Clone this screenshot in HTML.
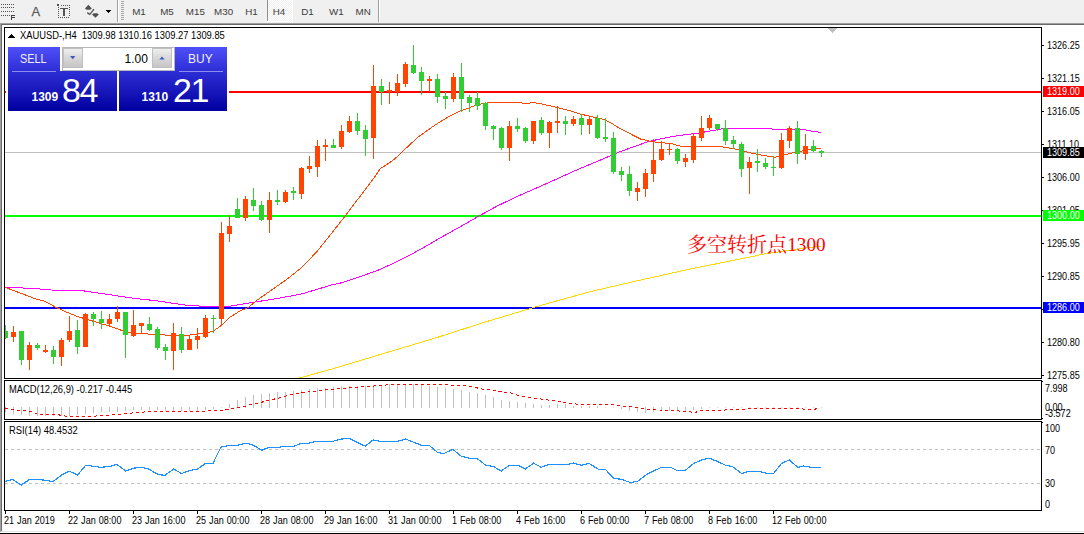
<!DOCTYPE html>
<html><head><meta charset="utf-8"><title>XAUUSD H4</title><style>
html,body{margin:0;padding:0;background:#fff}
body{width:1084px;height:534px;position:relative;overflow:hidden;font-family:"Liberation Sans",sans-serif}
.t{position:absolute;white-space:nowrap;color:#000;line-height:1;font-family:"Liberation Sans",sans-serif}
.tb{font-size:9.8px;color:#3c3c3c}
.ia{font-size:12.5px;color:#606060}
.hd{font-size:10px;transform:scaleX(0.935);transform-origin:0 0}
.ax{font-size:10px;transform:scaleX(0.905);transform-origin:0 0}
.bs{font-size:12px;color:#f0f0ff}
.vol{font-size:12px;color:#000}
.sm{font-size:12px;font-weight:bold;color:#fff}
.big{font-size:34px;color:#fff;letter-spacing:-1.4px}
.sx{transform:scaleX(0.9);transform-origin:0 0}
.lb{position:absolute;left:1043px;width:41px;height:11px;overflow:hidden}
</style></head><body>
<svg width="1084" height="534" viewBox="0 0 1084 534" shape-rendering="crispEdges" style="position:absolute;left:0;top:0"><rect x="0" y="0" width="1084" height="23" fill="#f0f0f0"/>
<rect x="0" y="23" width="1084" height="1" fill="#a0a0a0"/>
<rect x="0" y="24" width="1084" height="1" fill="#696969"/>
<rect x="0" y="24" width="1" height="508" fill="#a0a0a0"/>
<rect x="1" y="25" width="1" height="506" fill="#696969"/>
<rect x="1" y="531" width="1083" height="1" fill="#e3e3e3"/>
<rect x="0" y="533" width="1084" height="1" fill="#000"/>
<rect x="1" y="4" width="1" height="1" fill="#505050"/><rect x="3" y="4" width="1" height="1" fill="#505050"/><rect x="5" y="4" width="1" height="1" fill="#505050"/><rect x="7" y="4" width="1" height="1" fill="#505050"/><rect x="9" y="4" width="1" height="1" fill="#505050"/><rect x="11" y="4" width="1" height="1" fill="#505050"/><rect x="13" y="4" width="1" height="1" fill="#505050"/><rect x="1" y="7" width="1" height="1" fill="#505050"/><rect x="3" y="7" width="1" height="1" fill="#505050"/><rect x="5" y="7" width="1" height="1" fill="#505050"/><rect x="7" y="7" width="1" height="1" fill="#505050"/><rect x="9" y="7" width="1" height="1" fill="#505050"/><rect x="11" y="7" width="1" height="1" fill="#505050"/><rect x="13" y="7" width="1" height="1" fill="#505050"/><rect x="1" y="11" width="1" height="1" fill="#505050"/><rect x="3" y="11" width="1" height="1" fill="#505050"/><rect x="5" y="11" width="1" height="1" fill="#505050"/><rect x="7" y="11" width="1" height="1" fill="#505050"/><rect x="9" y="11" width="1" height="1" fill="#505050"/><rect x="11" y="11" width="1" height="1" fill="#505050"/><rect x="13" y="11" width="1" height="1" fill="#505050"/><rect x="1" y="15" width="1" height="1" fill="#505050"/><rect x="3" y="15" width="1" height="1" fill="#505050"/><rect x="5" y="15" width="1" height="1" fill="#505050"/><rect x="7" y="15" width="1" height="1" fill="#505050"/><rect x="9" y="15" width="1" height="1" fill="#505050"/><path d="M11 15h4.4v1h-3v1h2.2v1h-2.2v2h-1.4z" fill="#444"/><rect x="61" y="5" width="1" height="1" fill="#505050"/><rect x="63" y="5" width="1" height="1" fill="#505050"/><rect x="65" y="5" width="1" height="1" fill="#505050"/><rect x="67" y="5" width="1" height="1" fill="#505050"/><rect x="69" y="5" width="1" height="1" fill="#505050"/><rect x="69" y="7" width="1" height="1" fill="#505050"/><rect x="69" y="9" width="1" height="1" fill="#505050"/><rect x="69" y="11" width="1" height="1" fill="#505050"/><rect x="69" y="13" width="1" height="1" fill="#505050"/><rect x="69" y="15" width="1" height="1" fill="#505050"/><rect x="58" y="17" width="1" height="1" fill="#505050"/><rect x="60" y="17" width="1" height="1" fill="#505050"/><rect x="62" y="17" width="1" height="1" fill="#505050"/><rect x="64" y="17" width="1" height="1" fill="#505050"/><rect x="66" y="17" width="1" height="1" fill="#505050"/><rect x="68" y="17" width="1" height="1" fill="#505050"/><rect x="58" y="7" width="1" height="1" fill="#505050"/><rect x="58" y="9" width="1" height="1" fill="#505050"/><rect x="58" y="11" width="1" height="1" fill="#505050"/><rect x="58" y="13" width="1" height="1" fill="#505050"/><rect x="58" y="15" width="1" height="1" fill="#505050"/><rect x="57" y="4" width="2" height="2" fill="#505050"/><path d="M60 8h8v1.4h-3v6.6h-2v-6.6h-3z" fill="#555"/><text shape-rendering="geometricPrecision" x="31.6" y="16" font-size="13" font-family="Liberation Sans, sans-serif" fill="#5a5a5a" stroke="#5a5a5a" stroke-width="0.25">A</text><g shape-rendering="geometricPrecision"><path d="M88.4 4.8 L91.8 8.4 L90.2 9.8 L86.6 9.8 L85 8.4 Z" fill="#505050"/><path d="M87.2 12.6 L89.8 14.4 L94 9.2" fill="none" stroke="#505050" stroke-width="1.3"/><path d="M95.4 17.8 L92 14.4 L93.6 13.2 L97.2 13.2 L98.8 14.4 Z" fill="#505050"/></g><path d="M105.8 10 h5.4 l-2.7 3 z" fill="#000"/><rect x="117" y="0" width="1" height="22" fill="#a0a0a0"/><rect x="118" y="0" width="1" height="22" fill="#fff"/><rect x="121" y="1" width="3" height="1" fill="#a8a8a8"/><rect x="121" y="3" width="3" height="1" fill="#a8a8a8"/><rect x="121" y="5" width="3" height="1" fill="#a8a8a8"/><rect x="121" y="7" width="3" height="1" fill="#a8a8a8"/><rect x="121" y="9" width="3" height="1" fill="#a8a8a8"/><rect x="121" y="11" width="3" height="1" fill="#a8a8a8"/><rect x="121" y="13" width="3" height="1" fill="#a8a8a8"/><rect x="121" y="15" width="3" height="1" fill="#a8a8a8"/><rect x="121" y="17" width="3" height="1" fill="#a8a8a8"/><rect x="121" y="19" width="3" height="1" fill="#a8a8a8"/><defs><pattern id="chk" width="2" height="2" patternUnits="userSpaceOnUse"><rect width="2" height="2" fill="#f0f0f0"/><rect width="1" height="1" fill="#fff"/><rect x="1" y="1" width="1" height="1" fill="#fff"/></pattern></defs><rect x="268" y="0" width="24" height="21" fill="url(#chk)"/><rect x="267" y="0" width="1" height="21" fill="#909090"/><rect x="267" y="21" width="26" height="1" fill="#fff"/><rect x="292" y="0" width="1" height="22" fill="#fff"/><rect x="378" y="0" width="1" height="22" fill="#a0a0a0"/><rect x="379" y="0" width="1" height="22" fill="#fff"/>
<rect x="4.5" y="27.5" width="1037" height="351" fill="#fff" stroke="#000" stroke-width="1"/>
<rect x="4.5" y="380.5" width="1037" height="39" fill="#fff" stroke="#000" stroke-width="1"/>
<rect x="4.5" y="421.5" width="1037" height="89" fill="#fff" stroke="#000" stroke-width="1"/>
<clipPath id="cm"><rect x="5" y="28" width="1036" height="350"/></clipPath>
<g clip-path="url(#cm)">
<rect x="5" y="152" width="1036" height="1" fill="#c0c0c0"/>
<rect x="5" y="91" width="1036" height="2" fill="#FF0000"/>
<rect x="5" y="215" width="1036" height="2" fill="#00FF00"/>
<rect x="5" y="307" width="1036" height="2" fill="#0000FF"/>
<polyline points="296.0,379.0 298.0,378.4 331.7,369.1 383.3,353.6 435.0,338.1 486.6,321.6 538.3,306.1 590.0,291.7 641.6,279.8 693.2,268.4 715.5,264.0 744.9,258.1 764.0,254.0 796.5,249.3 821.0,246.0" fill="none" stroke="#FFD700" stroke-width="1"/>
<polyline points="5.0,287.3 33.2,288.4 50.9,290.0 81.9,290.6 99.6,293.3 115.1,295.5 132.8,298.2 155.0,300.6 172.7,303.2 188.2,305.4 203.7,306.3 215.0,306.9 227.0,306.6 242.0,304.2 257.0,301.7 272.0,299.4 287.0,296.7 302.0,293.8 317.0,289.4 332.0,284.8 339.3,283.4 358.0,277.5 378.6,270.0 392.0,264.0 406.1,257.1 422.0,248.5 437.6,239.4 457.2,228.4 480.8,215.0 496.5,206.4 516.2,196.9 535.8,188.3 555.5,179.6 575.2,170.6 590.0,164.4 603.0,159.0 618.0,152.5 633.0,147.0 648.0,141.7 663.0,138.3 678.0,135.7 693.0,133.8 700.0,133.0 704.5,132.0 715.0,130.2 722.5,128.7 730.0,128.3 770.4,128.3 772.0,129.2 802.0,129.2 805.0,129.9 811.0,131.0 821.0,132.5" fill="none" stroke="#FF00FF" stroke-width="1"/>
<polyline points="5.0,287.3 22.0,293.7 35.4,298.8 44.3,301.0 55.3,307.0 66.4,312.1 77.5,316.5 88.6,319.8 99.6,323.2 110.7,326.5 121.8,330.5 132.8,333.1 155.0,334.4 172.7,335.5 188.2,335.3 199.2,333.8 212.5,331.6 221.4,325.5 230.2,317.0 240.0,311.0 248.0,307.7 257.0,300.2 272.0,289.7 287.0,279.2 302.0,267.2 317.0,251.5 328.0,237.8 339.3,223.5 347.2,213.3 359.0,197.7 370.0,183.3 375.0,176.5 380.5,168.5 387.6,164.0 394.6,159.0 403.0,151.1 412.0,142.7 417.9,137.2 428.0,130.0 437.6,123.4 450.9,115.4 461.4,110.5 468.9,107.9 476.4,105.2 482.0,103.7 491.0,102.5 521.0,102.5 524.0,103.7 528.4,103.4 533.0,102.5 540.4,103.7 551.0,106.0 557.0,107.5 566.0,109.7 573.4,111.7 581.0,114.2 588.4,115.9 595.5,117.7 603.0,119.2 610.5,122.5 618.0,127.4 633.0,135.2 640.4,139.0 648.0,140.7 652.4,141.7 663.0,142.9 670.4,143.4 682.4,146.6 719.5,146.4 730.0,148.2 739.0,149.7 752.4,153.4 764.4,155.7 775.0,157.2 787.0,154.2 796.0,152.0 805.0,150.4 814.0,148.7 821.0,148.3" fill="none" stroke="#FF4500" stroke-width="1"/>
<rect x="5" y="325" width="1" height="14" fill="#32CD32"/><rect x="3" y="331" width="5" height="7" fill="#32CD32"/>
<rect x="13" y="326" width="1" height="16" fill="#FF4500"/><rect x="11" y="332" width="5" height="5" fill="#FF4500"/>
<rect x="21" y="331" width="1" height="34" fill="#32CD32"/><rect x="19" y="331" width="5" height="29" fill="#32CD32"/>
<rect x="29" y="342" width="1" height="28" fill="#FF4500"/><rect x="27" y="345" width="5" height="15" fill="#FF4500"/>
<rect x="37" y="343" width="1" height="7" fill="#32CD32"/><rect x="35" y="345" width="5" height="3" fill="#32CD32"/>
<rect x="45" y="345" width="1" height="8" fill="#FF4500"/><rect x="43" y="350" width="5" height="2" fill="#FF4500"/>
<rect x="53" y="346" width="1" height="18" fill="#32CD32"/><rect x="51" y="350" width="5" height="7" fill="#32CD32"/>
<rect x="61" y="338" width="1" height="28" fill="#FF4500"/><rect x="59" y="340" width="5" height="17" fill="#FF4500"/>
<rect x="69" y="316" width="1" height="26" fill="#FF4500"/><rect x="67" y="331" width="5" height="9" fill="#FF4500"/>
<rect x="77" y="320" width="1" height="34" fill="#32CD32"/><rect x="75" y="330" width="5" height="17" fill="#32CD32"/>
<rect x="85" y="313" width="1" height="34" fill="#FF4500"/><rect x="83" y="314" width="5" height="33" fill="#FF4500"/>
<rect x="93" y="312" width="1" height="14" fill="#32CD32"/><rect x="91" y="314" width="5" height="5" fill="#32CD32"/>
<rect x="101" y="311" width="1" height="18" fill="#32CD32"/><rect x="99" y="319" width="5" height="4" fill="#32CD32"/>
<rect x="109" y="314" width="1" height="12" fill="#FF4500"/><rect x="107" y="319" width="5" height="5" fill="#FF4500"/>
<rect x="117" y="306" width="1" height="16" fill="#FF4500"/><rect x="115" y="312" width="5" height="7" fill="#FF4500"/>
<rect x="125" y="312" width="1" height="46" fill="#32CD32"/><rect x="123" y="312" width="5" height="23" fill="#32CD32"/>
<rect x="133" y="310" width="1" height="27" fill="#FF4500"/><rect x="131" y="325" width="5" height="11" fill="#FF4500"/>
<rect x="141" y="323" width="1" height="11" fill="#FF4500"/><rect x="139" y="323" width="5" height="3" fill="#FF4500"/>
<rect x="149" y="317" width="1" height="14" fill="#32CD32"/><rect x="147" y="324" width="5" height="6" fill="#32CD32"/>
<rect x="157" y="327" width="1" height="23" fill="#32CD32"/><rect x="155" y="329" width="5" height="19" fill="#32CD32"/>
<rect x="165" y="344" width="1" height="16" fill="#32CD32"/><rect x="163" y="347" width="5" height="4" fill="#32CD32"/>
<rect x="173" y="323" width="1" height="47" fill="#FF4500"/><rect x="171" y="333" width="5" height="18" fill="#FF4500"/>
<rect x="181" y="327" width="1" height="26" fill="#32CD32"/><rect x="179" y="334" width="5" height="16" fill="#32CD32"/>
<rect x="189" y="335" width="1" height="15" fill="#FF4500"/><rect x="187" y="339" width="5" height="11" fill="#FF4500"/>
<rect x="197" y="328" width="1" height="21" fill="#FF4500"/><rect x="195" y="336" width="5" height="4" fill="#FF4500"/>
<rect x="205" y="315" width="1" height="23" fill="#FF4500"/><rect x="203" y="318" width="5" height="19" fill="#FF4500"/>
<rect x="213" y="315" width="1" height="18" fill="#32CD32"/><rect x="211" y="318" width="5" height="1" fill="#32CD32"/>
<rect x="221" y="222" width="1" height="104" fill="#FF4500"/><rect x="219" y="233" width="5" height="86" fill="#FF4500"/>
<rect x="229" y="215" width="1" height="27" fill="#FF4500"/><rect x="227" y="226" width="5" height="8" fill="#FF4500"/>
<rect x="237" y="198" width="1" height="20" fill="#32CD32"/><rect x="235" y="209" width="5" height="9" fill="#32CD32"/>
<rect x="245" y="196" width="1" height="25" fill="#FF4500"/><rect x="243" y="199" width="5" height="19" fill="#FF4500"/>
<rect x="253" y="188" width="1" height="23" fill="#32CD32"/><rect x="251" y="200" width="5" height="6" fill="#32CD32"/>
<rect x="261" y="201" width="1" height="20" fill="#32CD32"/><rect x="259" y="205" width="5" height="15" fill="#32CD32"/>
<rect x="269" y="192" width="1" height="41" fill="#FF4500"/><rect x="267" y="200" width="5" height="20" fill="#FF4500"/>
<rect x="277" y="190" width="1" height="15" fill="#32CD32"/><rect x="275" y="200" width="5" height="2" fill="#32CD32"/>
<rect x="285" y="190" width="1" height="13" fill="#FF4500"/><rect x="283" y="192" width="5" height="10" fill="#FF4500"/>
<rect x="293" y="187" width="1" height="13" fill="#32CD32"/><rect x="291" y="191" width="5" height="2" fill="#32CD32"/>
<rect x="301" y="167" width="1" height="32" fill="#FF4500"/><rect x="299" y="168" width="5" height="26" fill="#FF4500"/>
<rect x="309" y="156" width="1" height="17" fill="#FF4500"/><rect x="307" y="166" width="5" height="3" fill="#FF4500"/>
<rect x="317" y="140" width="1" height="37" fill="#FF4500"/><rect x="315" y="146" width="5" height="21" fill="#FF4500"/>
<rect x="325" y="139" width="1" height="22" fill="#FF4500"/><rect x="323" y="145" width="5" height="2" fill="#FF4500"/>
<rect x="333" y="139" width="1" height="9" fill="#32CD32"/><rect x="331" y="145" width="5" height="3" fill="#32CD32"/>
<rect x="341" y="125" width="1" height="24" fill="#FF4500"/><rect x="339" y="131" width="5" height="16" fill="#FF4500"/>
<rect x="349" y="116" width="1" height="17" fill="#FF4500"/><rect x="347" y="121" width="5" height="11" fill="#FF4500"/>
<rect x="357" y="113" width="1" height="22" fill="#32CD32"/><rect x="355" y="121" width="5" height="10" fill="#32CD32"/>
<rect x="365" y="125" width="1" height="31" fill="#32CD32"/><rect x="363" y="130" width="5" height="9" fill="#32CD32"/>
<rect x="373" y="65" width="1" height="94" fill="#FF4500"/><rect x="371" y="86" width="5" height="52" fill="#FF4500"/>
<rect x="381" y="79" width="1" height="26" fill="#32CD32"/><rect x="379" y="86" width="5" height="6" fill="#32CD32"/>
<rect x="389" y="82" width="1" height="22" fill="#FF4500"/><rect x="387" y="90" width="5" height="2" fill="#FF4500"/>
<rect x="397" y="74" width="1" height="22" fill="#FF4500"/><rect x="395" y="83" width="5" height="9" fill="#FF4500"/>
<rect x="405" y="62" width="1" height="25" fill="#FF4500"/><rect x="403" y="64" width="5" height="20" fill="#FF4500"/>
<rect x="413" y="45" width="1" height="29" fill="#32CD32"/><rect x="411" y="65" width="5" height="8" fill="#32CD32"/>
<rect x="421" y="67" width="1" height="28" fill="#32CD32"/><rect x="419" y="72" width="5" height="9" fill="#32CD32"/>
<rect x="429" y="76" width="1" height="16" fill="#FF4500"/><rect x="427" y="79" width="5" height="2" fill="#FF4500"/>
<rect x="437" y="74" width="1" height="29" fill="#32CD32"/><rect x="435" y="79" width="5" height="18" fill="#32CD32"/>
<rect x="445" y="92" width="1" height="17" fill="#32CD32"/><rect x="443" y="96" width="5" height="3" fill="#32CD32"/>
<rect x="453" y="73" width="1" height="29" fill="#FF4500"/><rect x="451" y="77" width="5" height="22" fill="#FF4500"/>
<rect x="461" y="63" width="1" height="49" fill="#32CD32"/><rect x="459" y="77" width="5" height="22" fill="#32CD32"/>
<rect x="469" y="95" width="1" height="17" fill="#32CD32"/><rect x="467" y="97" width="5" height="6" fill="#32CD32"/>
<rect x="477" y="92" width="1" height="18" fill="#32CD32"/><rect x="475" y="98" width="5" height="8" fill="#32CD32"/>
<rect x="485" y="102" width="1" height="28" fill="#32CD32"/><rect x="483" y="103" width="5" height="23" fill="#32CD32"/>
<rect x="493" y="125" width="1" height="15" fill="#32CD32"/><rect x="491" y="126" width="5" height="3" fill="#32CD32"/>
<rect x="501" y="127" width="1" height="23" fill="#32CD32"/><rect x="499" y="128" width="5" height="20" fill="#32CD32"/>
<rect x="509" y="121" width="1" height="40" fill="#FF4500"/><rect x="507" y="126" width="5" height="22" fill="#FF4500"/>
<rect x="517" y="118" width="1" height="14" fill="#32CD32"/><rect x="515" y="126" width="5" height="3" fill="#32CD32"/>
<rect x="525" y="127" width="1" height="16" fill="#32CD32"/><rect x="523" y="128" width="5" height="13" fill="#32CD32"/>
<rect x="533" y="121" width="1" height="23" fill="#FF4500"/><rect x="531" y="121" width="5" height="20" fill="#FF4500"/>
<rect x="541" y="117" width="1" height="18" fill="#32CD32"/><rect x="539" y="120" width="5" height="13" fill="#32CD32"/>
<rect x="549" y="121" width="1" height="27" fill="#FF4500"/><rect x="547" y="122" width="5" height="11" fill="#FF4500"/>
<rect x="557" y="106" width="1" height="27" fill="#FF4500"/><rect x="555" y="121" width="5" height="2" fill="#FF4500"/>
<rect x="565" y="116" width="1" height="19" fill="#32CD32"/><rect x="563" y="121" width="5" height="3" fill="#32CD32"/>
<rect x="573" y="116" width="1" height="10" fill="#FF4500"/><rect x="571" y="119" width="5" height="5" fill="#FF4500"/>
<rect x="581" y="114" width="1" height="21" fill="#32CD32"/><rect x="579" y="118" width="5" height="7" fill="#32CD32"/>
<rect x="589" y="116" width="1" height="18" fill="#FF4500"/><rect x="587" y="119" width="5" height="6" fill="#FF4500"/>
<rect x="597" y="115" width="1" height="24" fill="#32CD32"/><rect x="595" y="118" width="5" height="20" fill="#32CD32"/>
<rect x="605" y="118" width="1" height="24" fill="#32CD32"/><rect x="603" y="137" width="5" height="2" fill="#32CD32"/>
<rect x="613" y="132" width="1" height="42" fill="#32CD32"/><rect x="611" y="138" width="5" height="34" fill="#32CD32"/>
<rect x="621" y="167" width="1" height="14" fill="#32CD32"/><rect x="619" y="171" width="5" height="4" fill="#32CD32"/>
<rect x="629" y="166" width="1" height="30" fill="#32CD32"/><rect x="627" y="174" width="5" height="17" fill="#32CD32"/>
<rect x="637" y="182" width="1" height="19" fill="#FF4500"/><rect x="635" y="188" width="5" height="4" fill="#FF4500"/>
<rect x="645" y="169" width="1" height="28" fill="#FF4500"/><rect x="643" y="173" width="5" height="16" fill="#FF4500"/>
<rect x="653" y="139" width="1" height="43" fill="#FF4500"/><rect x="651" y="160" width="5" height="14" fill="#FF4500"/>
<rect x="661" y="141" width="1" height="20" fill="#FF4500"/><rect x="659" y="149" width="5" height="11" fill="#FF4500"/>
<rect x="669" y="143" width="1" height="12" fill="#FF4500"/><rect x="667" y="149" width="5" height="1" fill="#FF4500"/>
<rect x="677" y="148" width="1" height="16" fill="#32CD32"/><rect x="675" y="149" width="5" height="12" fill="#32CD32"/>
<rect x="685" y="154" width="1" height="13" fill="#FF4500"/><rect x="683" y="158" width="5" height="4" fill="#FF4500"/>
<rect x="693" y="133" width="1" height="30" fill="#FF4500"/><rect x="691" y="136" width="5" height="24" fill="#FF4500"/>
<rect x="701" y="116" width="1" height="25" fill="#FF4500"/><rect x="699" y="128" width="5" height="10" fill="#FF4500"/>
<rect x="709" y="115" width="1" height="15" fill="#FF4500"/><rect x="707" y="118" width="5" height="10" fill="#FF4500"/>
<rect x="717" y="124" width="1" height="7" fill="#32CD32"/><rect x="715" y="124" width="5" height="5" fill="#32CD32"/>
<rect x="725" y="120" width="1" height="25" fill="#32CD32"/><rect x="723" y="128" width="5" height="13" fill="#32CD32"/>
<rect x="733" y="136" width="1" height="13" fill="#32CD32"/><rect x="731" y="140" width="5" height="4" fill="#32CD32"/>
<rect x="741" y="142" width="1" height="35" fill="#32CD32"/><rect x="739" y="144" width="5" height="25" fill="#32CD32"/>
<rect x="749" y="157" width="1" height="37" fill="#FF4500"/><rect x="747" y="162" width="5" height="6" fill="#FF4500"/>
<rect x="757" y="149" width="1" height="23" fill="#32CD32"/><rect x="755" y="161" width="5" height="2" fill="#32CD32"/>
<rect x="765" y="158" width="1" height="11" fill="#32CD32"/><rect x="763" y="163" width="5" height="4" fill="#32CD32"/>
<rect x="773" y="156" width="1" height="20" fill="#32CD32"/><rect x="771" y="167" width="5" height="1" fill="#32CD32"/>
<rect x="781" y="133" width="1" height="36" fill="#FF4500"/><rect x="779" y="140" width="5" height="28" fill="#FF4500"/>
<rect x="789" y="126" width="1" height="22" fill="#FF4500"/><rect x="787" y="128" width="5" height="13" fill="#FF4500"/>
<rect x="797" y="121" width="1" height="43" fill="#32CD32"/><rect x="795" y="128" width="5" height="26" fill="#32CD32"/>
<rect x="805" y="134" width="1" height="26" fill="#FF4500"/><rect x="803" y="146" width="5" height="8" fill="#FF4500"/>
<rect x="813" y="140" width="1" height="12" fill="#32CD32"/><rect x="811" y="146" width="5" height="5" fill="#32CD32"/>
<rect x="821" y="150" width="1" height="7" fill="#32CD32"/><rect x="819" y="151" width="5" height="2" fill="#32CD32"/>
</g>
<path d="M828 28 h9 l-4.5 5 z" fill="#c0c0c0"/>
<rect x="5" y="407" width="1" height="5" fill="#c0c0c0"/>
<rect x="13" y="407" width="1" height="7" fill="#c0c0c0"/>
<rect x="21" y="407" width="1" height="8" fill="#c0c0c0"/>
<rect x="29" y="407" width="1" height="9" fill="#c0c0c0"/>
<rect x="37" y="407" width="1" height="9" fill="#c0c0c0"/>
<rect x="45" y="407" width="1" height="9" fill="#c0c0c0"/>
<rect x="53" y="407" width="1" height="9" fill="#c0c0c0"/>
<rect x="61" y="407" width="1" height="9" fill="#c0c0c0"/>
<rect x="69" y="407" width="1" height="9" fill="#c0c0c0"/>
<rect x="77" y="407" width="1" height="8" fill="#c0c0c0"/>
<rect x="85" y="407" width="1" height="7" fill="#c0c0c0"/>
<rect x="93" y="407" width="1" height="6" fill="#c0c0c0"/>
<rect x="101" y="407" width="1" height="5" fill="#c0c0c0"/>
<rect x="109" y="407" width="1" height="5" fill="#c0c0c0"/>
<rect x="117" y="407" width="1" height="5" fill="#c0c0c0"/>
<rect x="125" y="407" width="1" height="4" fill="#c0c0c0"/>
<rect x="133" y="407" width="1" height="3" fill="#c0c0c0"/>
<rect x="141" y="407" width="1" height="3" fill="#c0c0c0"/>
<rect x="149" y="407" width="1" height="3" fill="#c0c0c0"/>
<rect x="157" y="407" width="1" height="3" fill="#c0c0c0"/>
<rect x="165" y="407" width="1" height="4" fill="#c0c0c0"/>
<rect x="173" y="407" width="1" height="4" fill="#c0c0c0"/>
<rect x="181" y="407" width="1" height="4" fill="#c0c0c0"/>
<rect x="189" y="407" width="1" height="4" fill="#c0c0c0"/>
<rect x="197" y="407" width="1" height="4" fill="#c0c0c0"/>
<rect x="205" y="407" width="1" height="3" fill="#c0c0c0"/>
<rect x="213" y="407" width="1" height="2" fill="#c0c0c0"/>
<rect x="221" y="407" width="1" height="1" fill="#d8d8d8"/>
<rect x="229" y="404" width="1" height="4" fill="#c0c0c0"/>
<rect x="237" y="400" width="1" height="8" fill="#c0c0c0"/>
<rect x="245" y="397" width="1" height="11" fill="#c0c0c0"/>
<rect x="253" y="395" width="1" height="13" fill="#c0c0c0"/>
<rect x="261" y="394" width="1" height="14" fill="#c0c0c0"/>
<rect x="269" y="393" width="1" height="15" fill="#c0c0c0"/>
<rect x="277" y="392" width="1" height="16" fill="#c0c0c0"/>
<rect x="285" y="392" width="1" height="16" fill="#c0c0c0"/>
<rect x="293" y="391" width="1" height="17" fill="#c0c0c0"/>
<rect x="301" y="390" width="1" height="18" fill="#c0c0c0"/>
<rect x="309" y="389" width="1" height="19" fill="#c0c0c0"/>
<rect x="317" y="388" width="1" height="20" fill="#c0c0c0"/>
<rect x="325" y="388" width="1" height="20" fill="#c0c0c0"/>
<rect x="333" y="387" width="1" height="21" fill="#c0c0c0"/>
<rect x="341" y="386" width="1" height="22" fill="#c0c0c0"/>
<rect x="349" y="386" width="1" height="22" fill="#c0c0c0"/>
<rect x="357" y="386" width="1" height="22" fill="#c0c0c0"/>
<rect x="365" y="386" width="1" height="22" fill="#c0c0c0"/>
<rect x="373" y="385" width="1" height="23" fill="#c0c0c0"/>
<rect x="381" y="385" width="1" height="23" fill="#c0c0c0"/>
<rect x="389" y="384" width="1" height="24" fill="#c0c0c0"/>
<rect x="397" y="384" width="1" height="24" fill="#c0c0c0"/>
<rect x="405" y="384" width="1" height="24" fill="#c0c0c0"/>
<rect x="413" y="384" width="1" height="24" fill="#c0c0c0"/>
<rect x="421" y="385" width="1" height="23" fill="#c0c0c0"/>
<rect x="429" y="386" width="1" height="22" fill="#c0c0c0"/>
<rect x="437" y="387" width="1" height="21" fill="#c0c0c0"/>
<rect x="445" y="388" width="1" height="20" fill="#c0c0c0"/>
<rect x="453" y="389" width="1" height="19" fill="#c0c0c0"/>
<rect x="461" y="390" width="1" height="18" fill="#c0c0c0"/>
<rect x="469" y="392" width="1" height="16" fill="#c0c0c0"/>
<rect x="477" y="393" width="1" height="15" fill="#c0c0c0"/>
<rect x="485" y="395" width="1" height="13" fill="#c0c0c0"/>
<rect x="493" y="397" width="1" height="11" fill="#c0c0c0"/>
<rect x="501" y="400" width="1" height="8" fill="#c0c0c0"/>
<rect x="509" y="401" width="1" height="7" fill="#c0c0c0"/>
<rect x="517" y="402" width="1" height="6" fill="#c0c0c0"/>
<rect x="525" y="403" width="1" height="5" fill="#c0c0c0"/>
<rect x="533" y="404" width="1" height="4" fill="#c0c0c0"/>
<rect x="541" y="405" width="1" height="3" fill="#c0c0c0"/>
<rect x="549" y="405" width="1" height="3" fill="#c0c0c0"/>
<rect x="557" y="404" width="1" height="4" fill="#c0c0c0"/>
<rect x="565" y="404" width="1" height="4" fill="#c0c0c0"/>
<rect x="573" y="406" width="1" height="2" fill="#c0c0c0"/>
<rect x="581" y="406" width="1" height="2" fill="#c0c0c0"/>
<rect x="589" y="406" width="1" height="2" fill="#c0c0c0"/>
<rect x="597" y="406" width="1" height="2" fill="#c0c0c0"/>
<rect x="605" y="407" width="1" height="1" fill="#d8d8d8"/>
<rect x="613" y="407" width="1" height="1" fill="#d8d8d8"/>
<rect x="621" y="407" width="1" height="2" fill="#c0c0c0"/>
<rect x="629" y="407" width="1" height="4" fill="#c0c0c0"/>
<rect x="637" y="407" width="1" height="5" fill="#c0c0c0"/>
<rect x="645" y="407" width="1" height="6" fill="#c0c0c0"/>
<rect x="653" y="407" width="1" height="5" fill="#c0c0c0"/>
<rect x="661" y="407" width="1" height="4" fill="#c0c0c0"/>
<rect x="669" y="407" width="1" height="4" fill="#c0c0c0"/>
<rect x="677" y="407" width="1" height="4" fill="#c0c0c0"/>
<rect x="685" y="407" width="1" height="4" fill="#c0c0c0"/>
<rect x="693" y="407" width="1" height="3" fill="#c0c0c0"/>
<rect x="701" y="407" width="1" height="2" fill="#c0c0c0"/>
<rect x="709" y="407" width="1" height="1" fill="#d8d8d8"/>
<rect x="717" y="407" width="1" height="1" fill="#d8d8d8"/>
<rect x="725" y="407" width="1" height="1" fill="#d8d8d8"/>
<rect x="733" y="407" width="1" height="1" fill="#d8d8d8"/>
<rect x="741" y="407" width="1" height="1" fill="#d8d8d8"/>
<rect x="749" y="407" width="1" height="1" fill="#d8d8d8"/>
<rect x="757" y="407" width="1" height="1" fill="#d8d8d8"/>
<rect x="765" y="407" width="1" height="1" fill="#d8d8d8"/>
<rect x="773" y="407" width="1" height="1" fill="#d8d8d8"/>
<rect x="781" y="407" width="1" height="1" fill="#d8d8d8"/>
<rect x="789" y="407" width="1" height="1" fill="#d8d8d8"/>
<rect x="797" y="407" width="1" height="1" fill="#d8d8d8"/>
<rect x="805" y="407" width="1" height="1" fill="#d8d8d8"/>
<rect x="813" y="407" width="1" height="1" fill="#d8d8d8"/>
<rect x="821" y="407" width="1" height="1" fill="#d8d8d8"/>
<polyline points="5.0,408.7 13.0,409.4 19.4,410.4 24.5,410.7 30.3,411.4 36.8,413.8 42.6,414.6 54.2,414.6 60.7,415.1 65.9,416.2 95.6,416.2 98.2,415.1 109.8,415.1 120.1,414.2 122.7,413.3 130.0,413.1 142.5,412.4 147.4,411.4 204.7,411.4 212.2,410.4 224.6,410.1 229.6,408.9 242.0,407.4 249.6,404.9 259.5,402.9 267.0,400.7 279.4,397.9 289.4,394.9 304.3,392.5 319.3,390.7 336.7,388.7 354.2,387.5 371.6,386.2 386.5,385.0 400.0,384.7 420.0,384.5 440.0,384.5 472.0,386.2 479.7,388.7 494.6,390.5 512.0,393.2 519.5,395.7 529.5,397.4 544.4,399.4 564.3,402.4 579.3,404.4 614.0,404.9 621.6,406.4 639.0,407.4 643.9,409.0 659.4,410.0 678.7,411.0 688.4,411.0 691.3,412.3 696.2,412.3 698.1,411.0 717.5,410.4 736.9,409.4 744.6,409.4 748.5,408.3 800.8,408.3 804.7,409.4 814.4,409.4 817.3,408.3 819.0,408.3" fill="none" stroke="#FF0000" stroke-width="1" stroke-dasharray="3,3"/>
<line x1="5" y1="449.5" x2="1041" y2="449.5" stroke="#c0c0c0" stroke-width="1" stroke-dasharray="3,3"/>
<line x1="5" y1="483.5" x2="1041" y2="483.5" stroke="#c0c0c0" stroke-width="1" stroke-dasharray="3,3"/>
<polyline points="5.2,481.5 12.4,479.4 21.2,485.1 29.7,479.4 38.7,479.4 53.0,481.5 62.0,474.8 69.2,471.1 77.5,475.0 85.8,465.2 100.7,467.3 109.8,466.5 116.8,464.4 125.8,471.1 133.0,468.3 140.8,467.3 147.8,468.6 157.6,474.2 164.6,475.5 173.6,469.1 181.6,473.5 189.9,470.4 197.6,469.1 205.4,463.4 213.1,463.1 220.9,447.1 227.3,445.8 237.7,445.1 245.4,443.2 251.9,444.5 261.7,450.2 268.7,447.4 280.3,447.1 282.9,446.1 294.5,446.1 301.0,443.2 308.7,443.2 316.5,441.2 333.3,441.2 341.0,439.1 348.8,438.1 356.5,442.0 365.1,446.1 373.3,439.9 379.8,441.2 397.9,441.2 405.6,439.1 413.4,442.2 421.1,445.1 428.9,445.1 437.4,452.3 443.6,453.6 452.9,449.4 461.2,456.2 468.9,458.2 476.7,458.2 485.7,465.2 493.5,466.5 501.2,471.1 509.0,465.5 518.0,465.2 525.2,469.1 533.5,463.1 541.3,467.3 549.0,464.4 568.4,464.4 573.6,463.1 581.3,465.2 589.1,463.4 598.1,469.1 605.1,469.1 613.6,478.1 621.4,479.4 630.4,482.5 637.6,481.2 647.2,474.2 661.4,467.3 670.5,467.3 676.9,470.4 685.2,470.4 693.7,463.4 701.5,460.0 709.2,458.2 717.0,461.3 725.5,465.2 732.5,466.5 741.5,473.5 749.3,471.1 758.3,471.1 766.0,473.2 773.8,473.2 781.5,463.4 789.3,460.0 797.8,467.3 803.5,466.0 811.3,467.3 821.0,467.3" fill="none" stroke="#1E90FF" stroke-width="1.2"/>
<rect x="1042" y="45" width="2" height="1" fill="#000"/>
<rect x="1042" y="78" width="2" height="1" fill="#000"/>
<rect x="1042" y="111" width="2" height="1" fill="#000"/>
<rect x="1042" y="144" width="2" height="1" fill="#000"/>
<rect x="1042" y="177" width="2" height="1" fill="#000"/>
<rect x="1042" y="210" width="2" height="1" fill="#000"/>
<rect x="1042" y="243" width="2" height="1" fill="#000"/>
<rect x="1042" y="276" width="2" height="1" fill="#000"/>
<rect x="1042" y="309" width="2" height="1" fill="#000"/>
<rect x="1042" y="342" width="2" height="1" fill="#000"/>
<rect x="1042" y="375" width="2" height="1" fill="#000"/>
<rect x="1042" y="381" width="1" height="1" fill="#000"/>
<rect x="1042" y="418" width="1" height="1" fill="#000"/>
<rect x="1042" y="422" width="1" height="1" fill="#000"/>
<rect x="5" y="511" width="1" height="3" fill="#000"/>
<rect x="69" y="511" width="1" height="3" fill="#000"/>
<rect x="133" y="511" width="1" height="3" fill="#000"/>
<rect x="197" y="511" width="1" height="3" fill="#000"/>
<rect x="261" y="511" width="1" height="3" fill="#000"/>
<rect x="325" y="511" width="1" height="3" fill="#000"/>
<rect x="389" y="511" width="1" height="3" fill="#000"/>
<rect x="453" y="511" width="1" height="3" fill="#000"/>
<rect x="517" y="511" width="1" height="3" fill="#000"/>
<rect x="581" y="511" width="1" height="3" fill="#000"/>
<rect x="645" y="511" width="1" height="3" fill="#000"/>
<rect x="709" y="511" width="1" height="3" fill="#000"/>
<rect x="773" y="511" width="1" height="3" fill="#000"/>
<g fill="#FF0000" shape-rendering="geometricPrecision" font-family="Liberation Serif, Noto Serif CJK SC, serif"><text x="687" y="251.5" font-size="20" textLength="100" lengthAdjust="spacingAndGlyphs">多空转折点</text><text x="787.2" y="251" font-size="19.5" textLength="38.4" lengthAdjust="spacingAndGlyphs">1300</text></g>
<defs><linearGradient id="gb" x1="0" y1="0" x2="0" y2="1"><stop offset="0" stop-color="#5050f8"/><stop offset="0.35" stop-color="#3030d8"/><stop offset="1" stop-color="#0000a0"/></linearGradient><linearGradient id="gs" x1="0" y1="0" x2="0" y2="1"><stop offset="0" stop-color="#f0f0f0"/><stop offset="0.5" stop-color="#d8d8d8"/><stop offset="1" stop-color="#c4c4c4"/></linearGradient></defs><rect x="6" y="45" width="223" height="68" fill="#fff"/><path d="M8 47 H60 V71 H117 V111 H8 Z" fill="url(#gb)"/><path d="M227 47 H175 V71 H119 V111 H227 Z" fill="url(#gb)"/><rect x="12" y="71" width="44" height="1" fill="#8c8cf0"/><rect x="179" y="71" width="44" height="1" fill="#8c8cf0"/><rect x="62.5" y="47.5" width="112" height="23" fill="#fff" stroke="#b8b8b8"/><rect x="63.5" y="48.5" width="19" height="19" fill="url(#gs)" stroke="#c0c0c0" stroke-width="1"/><rect x="152.5" y="48.5" width="19" height="19" fill="url(#gs)" stroke="#c0c0c0" stroke-width="1"/><path shape-rendering="geometricPrecision" d="M70 56 h5.4 l-2.7 3.2 z" fill="#4058c0"/><path shape-rendering="geometricPrecision" d="M159.3 59.6 h5.4 l-2.7 -3.2 z" fill="#4058c0"/>
<path d="M8 38 L11.5 34 L15 38 Z" fill="#000"/></svg>
<div class="t tb" style="left:139px;top:7px;width:40px;margin-left:-20px;text-align:center">M1</div>
<div class="t tb" style="left:167px;top:7px;width:40px;margin-left:-20px;text-align:center">M5</div>
<div class="t tb" style="left:195.3px;top:7px;width:40px;margin-left:-20px;text-align:center">M15</div>
<div class="t tb" style="left:223.6px;top:7px;width:40px;margin-left:-20px;text-align:center">M30</div>
<div class="t tb" style="left:251.4px;top:7px;width:40px;margin-left:-20px;text-align:center">H1</div>
<div class="t tb" style="left:279px;top:7px;width:40px;margin-left:-20px;text-align:center">H4</div>
<div class="t tb" style="left:307.5px;top:7px;width:40px;margin-left:-20px;text-align:center">D1</div>
<div class="t tb" style="left:336.3px;top:7px;width:40px;margin-left:-20px;text-align:center">W1</div>
<div class="t tb" style="left:363.2px;top:7px;width:40px;margin-left:-20px;text-align:center">MN</div>
<div class="t hd" style="left:19.5px;top:31px;">XAUUSD-,H4&nbsp; 1309.98 1310.16 1309.27 1309.85</div>
<div class="t bs sx" style="left:20px;top:53px;">SELL</div>
<div class="t bs" style="left:188px;top:53px;">BUY</div>
<div class="t vol" style="left:124.5px;top:52.5px;">1.00</div>
<div class="t sm" style="left:31.5px;top:91px;">1309</div>
<div class="t sm" style="left:141.5px;top:91px;">1310</div>
<div class="t big" style="left:62px;top:73px;">84</div>
<div class="t big" style="left:173px;top:73px;">21</div>
<div class="t ax" style="left:1047px;top:40.5px;">1326.25</div>
<div class="t ax" style="left:1047px;top:73.5px;">1321.15</div>
<div class="t ax" style="left:1047px;top:106.5px;">1316.05</div>
<div class="t ax" style="left:1047px;top:139.5px;">1311.10</div>
<div class="t ax" style="left:1047px;top:172.5px;">1306.00</div>
<div class="t ax" style="left:1047px;top:205.5px;">1301.05</div>
<div class="t ax" style="left:1047px;top:238.5px;">1295.95</div>
<div class="t ax" style="left:1047px;top:271.5px;">1290.85</div>
<div class="t ax" style="left:1047px;top:337.5px;">1280.80</div>
<div class="t ax" style="left:1047px;top:370.5px;">1275.85</div>
<div class="lb" style="top:86px;background:#FF0000"><div class="t ax" style="left:4px;top:1px;color:#fff">1319.00</div></div>
<div class="lb" style="top:147px;background:#000"><div class="t ax" style="left:4px;top:1px;color:#fff">1309.85</div></div>
<div class="lb" style="top:210px;background:#00FF00"><div class="t ax" style="left:4px;top:1px;color:#fff">1300.00</div></div>
<div class="lb" style="top:302px;background:#0000FF"><div class="t ax" style="left:4px;top:1px;color:#fff">1286.00</div></div>
<div class="t ax" style="left:1045px;top:383.5px;">7.998</div>
<div class="t ax" style="left:1045px;top:403px;">0.00</div>
<div class="t ax" style="left:1045px;top:408.5px;">-3.572</div>
<div class="t ax" style="left:1045px;top:424px;">100</div>
<div class="t ax" style="left:1045px;top:445.5px;">70</div>
<div class="t ax" style="left:1045px;top:478.5px;">30</div>
<div class="t ax" style="left:1045px;top:499.5px;">0</div>
<div class="t hd" style="left:9px;top:385px;">MACD(12,26,9) -0.217 -0.445</div>
<div class="t hd" style="left:9px;top:426px;">RSI(14) 48.4532</div>
<div class="t ax" style="left:4px;top:515.5px;word-spacing:0.6px">21 Jan 2019</div>
<div class="t ax" style="left:68px;top:515.5px;word-spacing:0.6px">22 Jan 08:00</div>
<div class="t ax" style="left:132px;top:515.5px;word-spacing:0.6px">23 Jan 16:00</div>
<div class="t ax" style="left:196px;top:515.5px;word-spacing:0.6px">25 Jan 00:00</div>
<div class="t ax" style="left:260px;top:515.5px;word-spacing:0.6px">28 Jan 08:00</div>
<div class="t ax" style="left:324px;top:515.5px;word-spacing:0.6px">29 Jan 16:00</div>
<div class="t ax" style="left:388px;top:515.5px;word-spacing:0.6px">31 Jan 00:00</div>
<div class="t ax" style="left:452px;top:515.5px;word-spacing:0.6px">1 Feb 08:00</div>
<div class="t ax" style="left:516px;top:515.5px;word-spacing:0.6px">4 Feb 16:00</div>
<div class="t ax" style="left:580px;top:515.5px;word-spacing:0.6px">6 Feb 00:00</div>
<div class="t ax" style="left:644px;top:515.5px;word-spacing:0.6px">7 Feb 08:00</div>
<div class="t ax" style="left:708px;top:515.5px;word-spacing:0.6px">8 Feb 16:00</div>
<div class="t ax" style="left:772px;top:515.5px;word-spacing:0.6px">12 Feb 00:00</div>
</body></html>
